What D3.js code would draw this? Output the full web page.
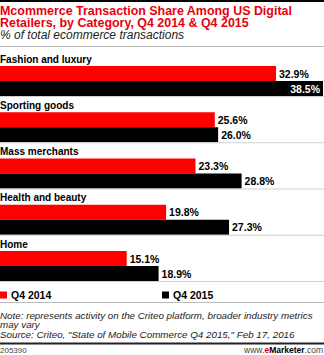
<!DOCTYPE html>
<html>
<head>
<meta charset="utf-8">
<script src="https://cdn.jsdelivr.net/npm/d3@7"></script>
<style>
  html, body { margin: 0; padding: 0; background: #fff; }
  svg { display: block; font-family: "Liberation Sans", Arial, sans-serif; }
</style>
</head>
<body>
<svg id="chart" width="324" height="355"></svg>
<script>
// Category data: share of ecommerce transactions (%)
const categories = ["Fashion and luxury", "Sporting goods", "Mass merchants", "Health and beauty", "Home"];
const q4_2014 = [32.9, 25.6, 23.3, 19.8, 15.1];
const q4_2015 = [38.5, 26.0, 28.8, 27.3, 18.9];
const seriesNames = ["Q4 2014", "Q4 2015"];
const seriesColors = ["#ff0000", "#000000"];

const svg = d3.select("#chart");
const W = 324;

// Shrink a text's font size so its width does not exceed maxW
function fitWidth(sel, maxW) {
  sel.each(function () {
    const node = this;
    let fs = parseFloat(d3.select(node).attr("font-size"));
    const w = node.getComputedTextLength();
    if (w > maxW) d3.select(node).attr("font-size", (fs * maxW / w).toFixed(2));
  });
}

// Top rule
svg.append("rect").attr("x", 0).attr("y", 0).attr("width", W).attr("height", 2).attr("fill", "#000");

// Title block
const titleLines = ["Mcommerce Transaction Share Among US Digital", "Retailers, by Category, Q4 2014 & Q4 2015"];
const titleT = svg.append("text").attr("x", 0).attr("y", 15).attr("fill", "#e8000b")
  .attr("font-weight", "bold").attr("font-size", 13.2).text(titleLines[0]);
fitWidth(titleT, 292);
svg.append("text").attr("x", 0).attr("y", 27).attr("fill", "#e8000b")
  .attr("font-weight", "bold").attr("font-size", titleT.attr("font-size")).text(titleLines[1]);
svg.append("text").attr("x", 0).attr("y", 39).attr("font-style", "italic").attr("font-size", 12)
  .attr("fill", "#222").text("% of total ecommerce transactions");

svg.append("line").attr("x1", 0).attr("x2", W).attr("y1", 46.5).attr("y2", 46.5)
  .attr("stroke", "#bbb").attr("stroke-width", 1);

// Scales
const x = d3.scaleLinear().domain([0, 38.5]).range([0, 323]);
const groupTop = d3.scalePoint().domain(categories).range([66, 251]);
const barH = 15;

const groups = svg.selectAll("g.cat").data(categories).join("g")
  .attr("class", "cat")
  .attr("transform", d => `translate(0,${groupTop(d)})`);

const catLabels = groups.append("text").attr("x", 0).attr("y", -3.5)
  .attr("font-weight", "bold").attr("font-size", 11).attr("fill", "#000")
  .text(d => d);
fitWidth(catLabels.filter((d, i) => i === 0), 92);
catLabels.attr("font-size", catLabels.filter((d, i) => i === 0).attr("font-size"));

[q4_2014, q4_2015].forEach((vals, s) => {
  groups.append("rect")
    .attr("x", 0)
    .attr("y", s * barH)
    .attr("width", (d, i) => x(vals[i]))
    .attr("height", barH)
    .attr("fill", seriesColors[s]);

  groups.append("text")
    .attr("y", s * barH + barH / 2 + 4)
    .attr("font-weight", "bold").attr("font-size", 10.5)
    .each(function (d, i) {
      const v = vals[i];
      const end = x(v);
      const inside = end > W - 40;
      d3.select(this)
        .attr("x", inside ? end - 3 : end + 3)
        .attr("text-anchor", inside ? "end" : "start")
        .attr("fill", inside ? "#fff" : "#000")
        .text(v.toFixed(1) + "%");
    });
});

// Thin separators under each group
groups.append("line").attr("x1", 0).attr("x2", W)
  .attr("y1", 2 * barH + 0.5).attr("y2", 2 * barH + 0.5)
  .attr("stroke", "#d0d0d0").attr("stroke-width", 1);

// Legend
const legendX = [0, 162];
seriesNames.forEach((name, s) => {
  svg.append("rect").attr("x", legendX[s]).attr("y", 291.5).attr("width", 7).attr("height", 7)
    .attr("fill", seriesColors[s]);
  svg.append("text").attr("x", legendX[s] + 11).attr("y", 298.5)
    .attr("font-weight", "bold").attr("font-size", 10.5).attr("fill", "#000").text(name);
});

// Notes
svg.append("line").attr("x1", 0).attr("x2", W).attr("y1", 302.5).attr("y2", 302.5)
  .attr("stroke", "#bbb").attr("stroke-width", 1);
const noteLines = [
  "Note: represents activity on the Criteo platform, broader industry metrics",
  "may vary",
  "Source: Criteo, \"State of Mobile Commerce Q4 2015,\" Feb 17, 2016"
];
const noteY = [318.5, 327.5, 337.5];
const notes = noteLines.map((t, i) =>
  svg.append("text").attr("x", 0).attr("y", noteY[i]).attr("font-style", "italic")
    .attr("font-size", 10.5).attr("fill", "#222").text(t));
fitWidth(notes[0], 313);
notes.forEach(n => n.attr("font-size", notes[0].attr("font-size")));

svg.append("rect").attr("x", 0).attr("y", 342.5).attr("width", W).attr("height", 2).attr("fill", "#222");

svg.append("text").attr("x", 0).attr("y", 352.5).attr("font-size", 8).attr("fill", "#444").text("205390");
const brand = svg.append("text").attr("x", 323).attr("y", 352.5).attr("text-anchor", "end")
  .attr("font-size", 8.5).attr("fill", "#444");
brand.append("tspan").text("www.");
brand.append("tspan").attr("fill", "#e8000b").attr("font-weight", "bold").text("e");
brand.append("tspan").attr("fill", "#000").attr("font-weight", "bold").text("Marketer");
brand.append("tspan").text(".com");
</script>
</body>
</html>
